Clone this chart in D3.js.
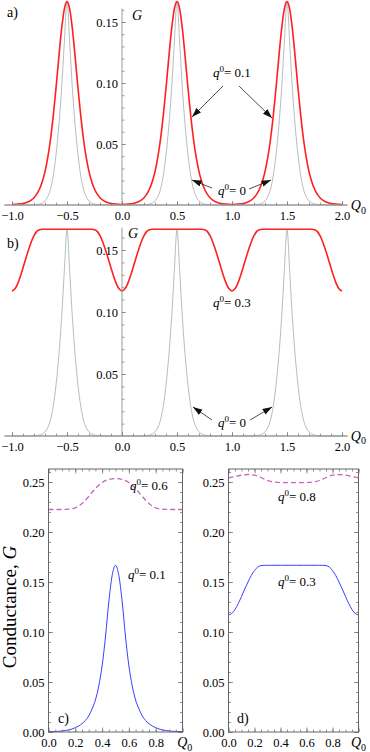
<!DOCTYPE html>
<html lang="en">
<head>
<meta charset="UTF-8">
<title>Conductance</title>
<script src="https://d3js.org/d3.v7.min.js"></script>
<style>
  body { margin: 0; background: #fff; }
  svg text { font-family: "Liberation Serif", "Times New Roman", serif !important; fill: #000; }
</style>
</head>
<body>
<script>
// sampling grids (Q0)
var qAB = d3.range(121).map(function(i) { return -1 + i * 0.025; });
var qCD = d3.range(41).map(function(i) { return i * 0.025; });
var qDash = d3.range(21).map(function(i) { return i * 0.05; });

// panel a / b : q0 = 0 (gray)
var gQ0 = [
  0,0,0,0,0,0,0,0.0001,0.0002,0.0004,0.0008,0.0016,0.0034,0.0068,0.013,0.024,0.041,0.064,0.094,0.132,0.1667,0.132,0.094,0.064,0.041,0.024,0.013,0.0068,0.0034,0.0016,0.0008,0.0004,0.0002,0.0001,0,0,0,0,0,0,
  0,0,0,0,0,0,0,0.0001,0.0002,0.0004,0.0008,0.0016,0.0034,0.0068,0.013,0.024,0.041,0.064,0.094,0.132,0.1667,0.132,0.094,0.064,0.041,0.024,0.013,0.0068,0.0034,0.0016,0.0008,0.0004,0.0002,0.0001,0,0,0,0,0,0,
  0,0,0,0,0,0,0,0.0001,0.0002,0.0004,0.0008,0.0016,0.0034,0.0068,0.013,0.024,0.041,0.064,0.094,0.132,0.1667,0.132,0.094,0.064,0.041,0.024,0.013,0.0068,0.0034,0.0016,0.0008,0.0004,0.0002,0.0001,0,0,0,0,0,0,
  0
];
// panel a : q0 = 0.1 (red)
var gA1 = [
  0.0004,0.0005,0.0007,0.0009,0.0012,0.0018,0.0027,0.004,0.006,0.0089,0.0131,0.0191,0.0274,0.0388,0.0539,0.073,0.0957,0.1204,0.1435,0.1604,0.1667,0.1604,0.1435,0.1204,0.0957,0.073,0.0539,0.0388,0.0274,0.0191,0.0131,0.0089,0.006,0.004,0.0027,0.0018,0.0012,0.0009,0.0007,0.0005,
  0.0004,0.0005,0.0007,0.0009,0.0012,0.0018,0.0027,0.004,0.006,0.0089,0.0131,0.0191,0.0274,0.0388,0.0539,0.073,0.0957,0.1204,0.1435,0.1604,0.1667,0.1604,0.1435,0.1204,0.0957,0.073,0.0539,0.0388,0.0274,0.0191,0.0131,0.0089,0.006,0.004,0.0027,0.0018,0.0012,0.0009,0.0007,0.0005,
  0.0004,0.0005,0.0007,0.0009,0.0012,0.0018,0.0027,0.004,0.006,0.0089,0.0131,0.0191,0.0274,0.0388,0.0539,0.073,0.0957,0.1204,0.1435,0.1604,0.1667,0.1604,0.1435,0.1204,0.0957,0.073,0.0539,0.0388,0.0274,0.0191,0.0131,0.0089,0.006,0.004,0.0027,0.0018,0.0012,0.0009,0.0007,0.0005,
  0.0004
];
// panel b : q0 = 0.3 (red)
var gB3 = [
  0.117,0.1185,0.1225,0.1285,0.1355,0.143,0.15,0.1565,0.1615,0.165,0.1664,0.1667,0.1667,0.1667,0.1667,0.1667,0.1667,0.1667,0.1667,0.1667,0.1667,0.1667,0.1667,0.1667,0.1667,0.1667,0.1667,0.1667,0.1667,0.1667,0.1664,0.165,0.1615,0.1565,0.15,0.143,0.1355,0.1285,0.1225,0.1185,
  0.117,0.1185,0.1225,0.1285,0.1355,0.143,0.15,0.1565,0.1615,0.165,0.1664,0.1667,0.1667,0.1667,0.1667,0.1667,0.1667,0.1667,0.1667,0.1667,0.1667,0.1667,0.1667,0.1667,0.1667,0.1667,0.1667,0.1667,0.1667,0.1667,0.1664,0.165,0.1615,0.1565,0.15,0.143,0.1355,0.1285,0.1225,0.1185,
  0.117,0.1185,0.1225,0.1285,0.1355,0.143,0.15,0.1565,0.1615,0.165,0.1664,0.1667,0.1667,0.1667,0.1667,0.1667,0.1667,0.1667,0.1667,0.1667,0.1667,0.1667,0.1667,0.1667,0.1667,0.1667,0.1667,0.1667,0.1667,0.1667,0.1664,0.165,0.1615,0.1565,0.15,0.143,0.1355,0.1285,0.1225,0.1185,
  0.117
];
// panel c : q0 = 0.1 (blue), q0 = 0.6 (dashed)
var gC1 = [0.0004,0.0004,0.0005,0.0007,0.001,0.0015,0.0021,0.003,0.0043,0.006,0.0083,0.0115,0.016,0.023,0.032,0.046,0.066,0.095,0.13,0.1565,0.1667,
  0.1565,0.13,0.095,0.066,0.046,0.032,0.023,0.016,0.0115,0.0083,0.006,0.0043,0.003,0.0021,0.0015,0.001,0.0007,0.0005,0.0004,0.0004];
var gC6 = [0.2225,0.2225,0.2225,0.2228,0.2242,0.2285,0.2355,0.2435,0.2495,0.2525,0.2535,0.2525,0.2495,0.2435,0.2355,0.2285,0.2242,0.2228,0.2225,0.2225,0.2225];
// panel d : q0 = 0.3 (blue), q0 = 0.8 (dashed)
var gD3 = [0.117,0.1185,0.1225,0.1285,0.1355,0.143,0.15,0.1565,0.1615,0.165,0.1664,0.1667,0.1667,0.1667,0.1667,0.1667,0.1667,0.1667,0.1667,0.1667,0.1667,
  0.1667,0.1667,0.1667,0.1667,0.1667,0.1667,0.1667,0.1667,0.1667,0.1664,0.165,0.1615,0.1565,0.15,0.143,0.1355,0.1285,0.1225,0.1185,0.117];
var gD8 = [0.2542,0.2555,0.2568,0.2575,0.2568,0.2545,0.2515,0.25,0.2494,0.2493,0.2493,0.2493,0.2494,0.25,0.2515,0.2545,0.2568,0.2575,0.2568,0.2555,0.2542];

// tick values
var xTicksAB = [-1.0, -0.5, 0.0, 0.5, 1.0, 1.5, 2.0];
var xMinorAB = d3.range(-10, 21).map(function(i) { return i / 10; });
var yTicksAB = [0.05, 0.10, 0.15];
var yMinorAB = d3.range(1, 17).map(function(i) { return i / 100; });
var xTicksCD = [0.0, 0.2, 0.4, 0.6, 0.8];
var xMinorCD = d3.range(0, 21).map(function(i) { return i / 20; });
var yTicksCD = [0.00, 0.05, 0.10, 0.15, 0.20, 0.25];
var yMinorCD = d3.range(0, 27).map(function(i) { return i / 100; });

var width = 370, height = 752;
var svg = d3.select("body").append("svg").attr("width", width).attr("height", height);

svg.append("defs").append("marker")
  .attr("id", "arr").attr("markerUnits", "userSpaceOnUse")
  .attr("markerWidth", 10).attr("markerHeight", 7)
  .attr("refX", 9.5).attr("refY", 3.2).attr("orient", "auto")
  .append("path").attr("d", "M0,0 L9.5,3.2 L0,6.4 Z").attr("fill", "#111");

var fmt = d3.format(".1f");
var fmt2 = d3.format(".2f");
var GRAY = "#b3bfbf", RED = "#ff1f1f", BLUE = "#3d3dff", PURPLE = "#c266c2";

function line(x, y) {
  return d3.line().x(function(d) { return x(d[0]); }).y(function(d) { return y(d[1]); })
    .curve(d3.curveMonotoneX);
}

function qLabel(g, x, y, q, val) {
  var t = g.append("text").attr("x", x(q[0])).attr("y", y(q[1])).attr("font-size", 13);
  t.append("tspan").attr("font-style", "italic").text("q");
  t.append("tspan").attr("dy", -5).attr("font-size", 9).text("0");
  t.append("tspan").attr("dy", 5).text("= " + val);
}

function qSub(g, x, y, q) {
  var t = g.append("text").attr("x", x(q[0])).attr("y", y(q[1])).attr("font-size", 14);
  t.append("tspan").attr("font-style", "italic").text("Q");
  t.append("tspan").attr("dy", 3.5).attr("font-size", 10).text("0");
}

function arrow(g, x, y, a) {
  g.append("line")
    .attr("x1", x(a[0])).attr("y1", y(a[1])).attr("x2", x(a[2])).attr("y2", y(a[3]))
    .attr("stroke", "#222").attr("stroke-width", 0.8).attr("marker-end", "url(#arr)");
}

// ticks only (no labels), pointing into the plot
function ticks(g, axis, vals, size) {
  g.call(axis.tickValues(vals).tickSize(size).tickFormat(""));
  g.selectAll(".domain").remove();
  g.selectAll("text").remove();
}

function styleAxes(g, tickColor) {
  g.selectAll(".domain").remove();
  g.selectAll(".tick line").attr("stroke", tickColor).attr("stroke-width", 0.7);
  g.selectAll(".tick text").attr("font-size", 12.5).attr("fill", "#000");
}

// ---------- panels a and b (axes through origin) ----------
function axesPanel(x, y, yTop, series, notes) {
  var g = svg.append("g");
  var y0 = y(0), x0 = x(0);

  series.forEach(function(s) {
    g.append("path").datum(qAB.map(function(q, i) { return [q, s.v[i]]; }))
      .attr("d", line(x, y)).attr("fill", "none")
      .attr("stroke", s.c).attr("stroke-width", s.w);
  });

  // axis lines
  g.append("line").attr("x1", x(-1.07)).attr("x2", x(2.05)).attr("y1", y0).attr("y2", y0)
    .attr("stroke", "#9a9a9a").attr("stroke-width", 1.6);
  g.append("line").attr("x1", x0).attr("x2", x0).attr("y1", y0).attr("y2", y(yTop))
    .attr("stroke", "#9a9a9a").attr("stroke-width", 1);

  ticks(g.append("g").attr("transform", "translate(0," + y0 + ")"), d3.axisTop(x), xMinorAB, 2.5);
  ticks(g.append("g").attr("transform", "translate(0," + y0 + ")"), d3.axisTop(x), xTicksAB, 4);
  ticks(g.append("g").attr("transform", "translate(" + x0 + ",0)"), d3.axisRight(y),
        yMinorAB.filter(function(v) { return v <= yTop; }), 2.5);
  ticks(g.append("g").attr("transform", "translate(" + x0 + ",0)"), d3.axisRight(y), yTicksAB, 4);

  g.append("g").attr("transform", "translate(0," + y0 + ")")
    .call(d3.axisBottom(x).tickValues(xTicksAB).tickSize(0).tickPadding(6).tickFormat(fmt));
  g.append("g").attr("transform", "translate(" + x0 + ",0)")
    .call(d3.axisLeft(y).tickValues(yTicksAB).tickSize(0).tickPadding(4).tickFormat(fmt2));
  styleAxes(g, "#777");

  g.append("text").attr("x", x(notes.G[0])).attr("y", y(notes.G[1]))
    .attr("font-size", 14).attr("font-style", "italic").text("G");
  qSub(g, x, y, notes.Q);
  g.append("text").attr("x", x(notes.tag[0])).attr("y", y(notes.tag[1]))
    .attr("font-size", 14).text(notes.tag[2]);
  notes.labels.forEach(function(l) { qLabel(g, x, y, l.at, l.val); });
  notes.arrows.forEach(function(a) { arrow(g, x, y, a); });
}

var xA = d3.scaleLinear().domain([-1, 2]).range([12, 342]);
var yA = d3.scaleLinear().domain([0, 0.15]).range([205, 22]);
axesPanel(xA, yA, 0.161, [
  { v: gQ0, c: GRAY, w: 1 },
  { v: gA1, c: RED, w: 1.6 }
], {
  G: [0.091, 0.1516], Q: [2.08, -0.0041], tag: [-1.045, 0.1541, "a)"],
  labels: [{ at: [0.827, 0.105], val: "0.1" }, { at: [0.873, 0.0082], val: "0" }],
  arrows: [[0.918, 0.0975, 0.636, 0.0721], [1.064, 0.0975, 1.364, 0.0713],
           [0.818, 0.0139, 0.636, 0.0205], [1.155, 0.0131, 1.355, 0.0205]]
});

var yB = d3.scaleLinear().domain([0, 0.15]).range([436, 250]);
axesPanel(xA, yB, 0.168, [
  { v: gQ0, c: GRAY, w: 1 },
  { v: gB3, c: RED, w: 1.6 }
], {
  G: [0.055, 0.16], Q: [2.08, -0.004], tag: [-1.045, 0.1516, "b)"],
  labels: [{ at: [0.827, 0.104], val: "0.3" }, { at: [0.873, 0.0073], val: "0" }],
  arrows: [[0.818, 0.0129, 0.645, 0.0234], [1.164, 0.0129, 1.364, 0.0234]]
});

// ---------- panels c and d (framed) ----------
function framePanel(x, y, solid, dashed, notes, showYTitle) {
  var g = svg.append("g");
  var x0 = x.range()[0], x1 = x.range()[1];
  var yb = y(0), yt = y(0.263);

  g.append("path").datum(qDash.map(function(q, i) { return [q, dashed[i]]; }))
    .attr("d", line(x, y)).attr("fill", "none").attr("stroke", PURPLE)
    .attr("stroke-width", 1.3).attr("stroke-dasharray", "5,3");
  g.append("path").datum(qCD.map(function(q, i) { return [q, solid[i]]; }))
    .attr("d", line(x, y)).attr("fill", "none").attr("stroke", BLUE).attr("stroke-width", 1);

  g.append("rect").attr("x", x0).attr("y", yt).attr("width", x1 - x0).attr("height", yb - yt)
    .attr("fill", "none").attr("stroke", "#666").attr("stroke-width", 1);

  var yMin = yMinorCD.filter(function(v) { return v < 0.263; });
  var xMaj = xTicksCD.concat([1]);
  ticks(g.append("g").attr("transform", "translate(0," + yb + ")"), d3.axisTop(x), xMinorCD, 2.5);
  ticks(g.append("g").attr("transform", "translate(0," + yb + ")"), d3.axisTop(x), xMaj, 4.5);
  ticks(g.append("g").attr("transform", "translate(0," + yt + ")"), d3.axisBottom(x), xMinorCD, 2.5);
  ticks(g.append("g").attr("transform", "translate(0," + yt + ")"), d3.axisBottom(x), xMaj, 4.5);
  ticks(g.append("g").attr("transform", "translate(" + x0 + ",0)"), d3.axisRight(y), yMin, 2.5);
  ticks(g.append("g").attr("transform", "translate(" + x0 + ",0)"), d3.axisRight(y), yTicksCD, 4.5);
  ticks(g.append("g").attr("transform", "translate(" + x1 + ",0)"), d3.axisLeft(y), yMin, 2.5);
  ticks(g.append("g").attr("transform", "translate(" + x1 + ",0)"), d3.axisLeft(y), yTicksCD, 4.5);

  g.append("g").attr("transform", "translate(0," + yb + ")")
    .call(d3.axisBottom(x).tickValues(xTicksCD).tickSize(0).tickPadding(6).tickFormat(fmt));
  g.append("g").attr("transform", "translate(" + x0 + ",0)")
    .call(d3.axisLeft(y).tickValues(yTicksCD).tickSize(0).tickPadding(4).tickFormat(fmt2));
  styleAxes(g, "#666");

  qSub(g, x, y, notes.Q);
  g.append("text").attr("x", x(notes.tag[0])).attr("y", y(notes.tag[1]))
    .attr("font-size", 14).text(notes.tag[2]);
  notes.labels.forEach(function(lb) { qLabel(g, x, y, lb.at, lb.val); });

  if (showYTitle) {
    var yt2 = svg.append("text").attr("transform", "translate(16," + y(0.125) + ") rotate(-90)")
      .attr("text-anchor", "middle").attr("font-size", 19);
    yt2.append("tspan").text("Conductance, ");
    yt2.append("tspan").attr("font-style", "italic").text("G");
  }
}

var xC = d3.scaleLinear().domain([0, 1]).range([48.5, 182.5]);
var yC = d3.scaleLinear().domain([0, 0.25]).range([732, 482]);
framePanel(xC, yC, gC1, gC6, {
  Q: [0.96, -0.015], tag: [0.071, 0.009, "c)"],
  labels: [{ at: [0.608, 0.242], val: "0.6" }, { at: [0.593, 0.153], val: "0.1" }]
}, true);

var xD = d3.scaleLinear().domain([0, 1]).range([228.5, 358.5]);
framePanel(xD, yC, gD3, gD8, {
  Q: [0.942, -0.015], tag: [0.065, 0.009, "d)"],
  labels: [{ at: [0.381, 0.231], val: "0.8" }, { at: [0.381, 0.146], val: "0.3" }]
}, false);
</script>
</body>
</html>
